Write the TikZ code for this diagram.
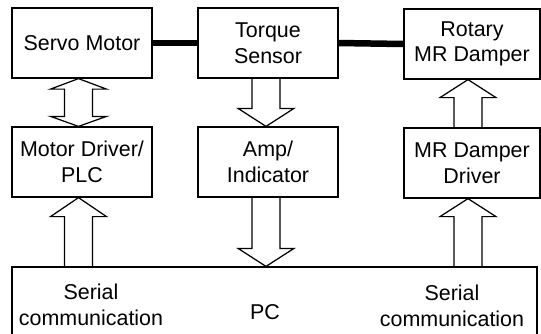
\documentclass[tikz,border=0pt]{standalone}
\usepackage{fontspec}
\setmainfont{Liberation Sans}
\usetikzlibrary{calc}

%% hollow block arrow: x, tail, tip, signed head length
\newcommand{\shafthw}{0.28}
\newcommand{\headhw}{0.56}
\newcommand{\blockarrow}[4]{%
  \coordinate (ba-tail) at (#1,0 |- #2);
  \coordinate (ba-tip)  at (#1,0 |- #3);
  \draw[fat] ($(ba-tail)+(-\shafthw,0)$) -- ($(ba-tip)+(-\shafthw,{-(#4)})$)
    -- ($(ba-tip)+(-\headhw,{-(#4)})$) -- (ba-tip)
    -- ($(ba-tip)+(\headhw,{-(#4)})$) -- ($(ba-tip)+(\shafthw,{-(#4)})$)
    -- ($(ba-tail)+(\shafthw,0)$);}

\begin{document}
\begin{tikzpicture}[
  every node/.style={font=\fontsize{12.2}{14.5}\selectfont},
  unit/.style={draw, line width=0.7pt, fill=white,
    minimum width=2.8cm, minimum height=1.4cm, align=center},
  link/.style={line width=3.7pt},
  fat/.style={line width=0.7pt, line join=miter},
]
\path[use as bounding box, clip] (0,0) rectangle (10.82,-6.66);

%% ROW 0 — mechanical chain
\node[unit] (servo)  at (1.64,-0.86) {Servo Motor};
\node[unit] (torque) at (5.36,-0.86) {Torque\\Sensor};
\node[unit, minimum width=2.72cm] (rotary) at (9.44,-0.88) {Rotary\\MR Damper};
\draw[link] (servo.east) -- (torque.west);
\draw[link] (torque.east) -- (rotary.west);

%% ROW 1 — drivers / amplifier
\node[unit] (motor) at (1.64,-3.24) {Motor Driver/\\PLC};
\node[unit] (amp)   at (5.36,-3.24) {Amp/\\Indicator};
\node[unit, minimum width=2.72cm] (mrdrv) at (9.44,-3.26) {MR Damper\\Driver};

%% ROW 2 — PC
\node[draw, line width=0.7pt, minimum width=10.5cm, minimum height=1.52cm]
  (pc) at (5.49,-6.10) {};
\node (pctext) at (5.30,-6.25) {PC};
\node[align=center] (serL) at (1.82,-6.10) {Serial\\communication};
\node[align=center] (serR) at (9.04,-6.12) {Serial\\communication};

%% block arrows
\coordinate (dtop) at (1.57,0 |- servo.south);
\coordinate (dbot) at (1.57,0 |- motor.north);
\draw[fat] (dtop) -- ($(dtop)+(\headhw,-0.21)$) -- ($(dtop)+(\shafthw,-0.21)$)
  -- ($(dbot)+(\shafthw,0.2)$) -- ($(dbot)+(\headhw,0.2)$) -- (dbot)
  -- ($(dbot)+(-\headhw,0.2)$) -- ($(dbot)+(-\shafthw,0.2)$)
  -- ($(dtop)+(-\shafthw,-0.21)$) -- ($(dtop)+(-\headhw,-0.21)$) -- cycle;

\blockarrow{5.32}{torque.south}{amp.north}{-0.36}
\blockarrow{9.36}{mrdrv.north}{rotary.south}{0.36}
\blockarrow{1.57}{pc.north}{motor.south}{0.38}
\blockarrow{5.32}{amp.south}{pc.north}{-0.36}
\blockarrow{9.36}{pc.north}{mrdrv.south}{0.36}

\end{tikzpicture}
\end{document}
